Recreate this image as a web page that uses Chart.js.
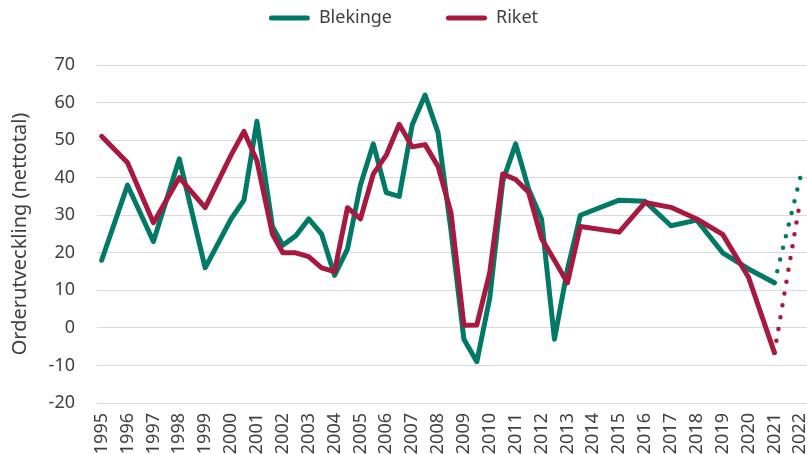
<!DOCTYPE html>
<html>
<head>
<meta charset="utf-8">
<script src="https://cdn.jsdelivr.net/npm/chart.js@4.4.0/dist/chart.umd.min.js"></script>
<style>
  html, body { margin: 0; padding: 0; background: #fff; overflow: hidden; }
  #wrap { width: 807px; height: 454px; }
</style>
</head>
<body>
<div id="wrap"><canvas id="chart-area"></canvas></div>
<script>
// x positions in years (half years where the curves bend)
var periods = [1995, 1996, 1997, 1998, 1999, 2000, 2000.5, 2001, 2001.6, 2002, 2002.5, 2003, 2003.5,
    2004, 2004.5, 2005, 2005.5, 2006, 2006.5, 2007, 2007.5, 2008, 2008.5, 2009, 2009.5, 2010, 2010.5,
    2011, 2011.5, 2012, 2012.5, 2013, 2013.5, 2015, 2016, 2017, 2018, 2019, 2020, 2021];
var blekinge = [18, 38, 23, 45, 16, 29, 34, 55, 27, 22, 24.5, 29, 25,
    14, 21, 38, 49, 36, 35, 54, 62, 52, 26, -3, -9, 8, 39,
    49, 37, 29, -3, 15.5, 30, 34, 33.7, 27.2, 28.7, 20, 15.7, 12];
var riket = [51, 44, 28, 40, 32, 46, 52.3, 44.5, 25, 20, 20, 19, 16,
    15, 32, 29, 41, 46, 54.2, 48.2, 48.8, 43, 30.7, 0.7, 0.8, 14.8, 41,
    39.5, 36.1, 23.8, 18, 12, 27, 25.5, 33.4, 32.1, 29, 24.9, 13.5, -6.6];

// prognos (dotted)
var forecastPeriods = [2021, 2022];
var blekingeForecast = [12, 40];
var riketForecast = [-6.6, 34];

var tickYears = [1995, 1996, 1997, 1998, 1999, 2000, 2001, 2002, 2003, 2004, 2005, 2006, 2007, 2008,
    2009, 2010, 2011, 2012, 2013, 2014, 2015, 2016, 2017, 2018, 2019, 2020, 2021, 2022];

var green = '#007a67';
var red = '#a8183f';
var textColor = '#404040';

function points(xs, ys) {
    return xs.map(function (x, i) { return { x: x, y: ys[i] }; });
}

// make room between legend and plot
var legendSpace = {
    id: 'legendSpace',
    beforeInit: function (chart) {
        var fit = chart.legend.fit;
        chart.legend.fit = function () {
            fit.call(chart.legend);
            this.height += 28;
        };
    }
};

Chart.defaults.font.family = '"Noto Sans", sans-serif';
Chart.defaults.color = textColor;

var ctx = document.getElementById('chart-area').getContext('2d');
var config = {
    type: 'line',
    data: {
        datasets: [{
            label: 'Blekinge',
            data: points(periods, blekinge),
            borderColor: green,
            backgroundColor: green,
            borderWidth: 5,
            borderCapStyle: 'round',
            borderJoinStyle: 'round',
            pointRadius: 0,
            tension: 0,
            order: 2
        }, {
            label: 'Riket',
            data: points(periods, riket),
            borderColor: red,
            backgroundColor: red,
            borderWidth: 5,
            borderCapStyle: 'round',
            borderJoinStyle: 'round',
            pointRadius: 0,
            tension: 0,
            order: 1
        }, {
            label: 'Blekinge prognos',
            data: points(forecastPeriods, blekingeForecast),
            borderColor: green,
            borderWidth: 4.5,
            borderDash: [0, 12],
            borderCapStyle: 'round',
            pointRadius: 0,
            order: 3
        }, {
            label: 'Riket prognos',
            data: points(forecastPeriods, riketForecast),
            borderColor: red,
            borderWidth: 4.5,
            borderDash: [0, 12],
            borderCapStyle: 'round',
            pointRadius: 0,
            order: 3
        }]
    },
    options: {
        responsive: true,
        maintainAspectRatio: false,
        animation: false,
        layout: { padding: { top: -45, left: 0, right: 0, bottom: 0 } },
        plugins: {
            tooltip: { enabled: false },
            legend: {
                position: 'top',
                labels: {
                    boxWidth: 41,
                    boxHeight: 5,
                    padding: 54,
                    font: { size: 18 },
                    filter: function (item) { return item.datasetIndex < 2; },
                    sort: function (a, b) { return a.datasetIndex - b.datasetIndex; },
                    generateLabels: function (chart) {
                        var items = Chart.defaults.plugins.legend.labels.generateLabels(chart);
                        items.forEach(function (it) {
                            it.fillStyle = it.strokeStyle;
                            it.lineWidth = 0;
                            it.borderRadius = 2.5;
                        });
                        return items;
                    }
                }
            }
        },
        scales: {
            x: {
                type: 'linear',
                min: 1994.82,
                max: 2022.26,
                grid: { display: false, drawTicks: false },
                border: { display: false },
                afterBuildTicks: function (axis) {
                    axis.ticks = tickYears.map(function (v) { return { value: v }; });
                },
                afterFit: function (axis) {
                    axis.height = 51;
                    axis.paddingLeft = 0;
                    axis.paddingRight = 0;
                },
                ticks: {
                    autoSkip: false,
                    minRotation: 90,
                    maxRotation: 90,
                    padding: 10,
                    font: { size: 18 },
                    callback: function (v) { return String(v); }
                }
            },
            y: {
                min: -20,
                max: 70,
                ticks: { stepSize: 10, padding: 22, font: { size: 18 } },
                grid: { color: '#d9d9d9', lineWidth: 1, drawTicks: false },
                border: { display: false },
                title: {
                    display: true,
                    text: 'Orderutveckling (nettotal)',
                    font: { size: 20 },
                    padding: { top: 8, bottom: 0 }
                },
                afterFit: function (axis) { axis.width = 97; }
            }
        }
    },
    plugins: [legendSpace]
};
var chart = new Chart(ctx, config);
</script>
</body>
</html>
